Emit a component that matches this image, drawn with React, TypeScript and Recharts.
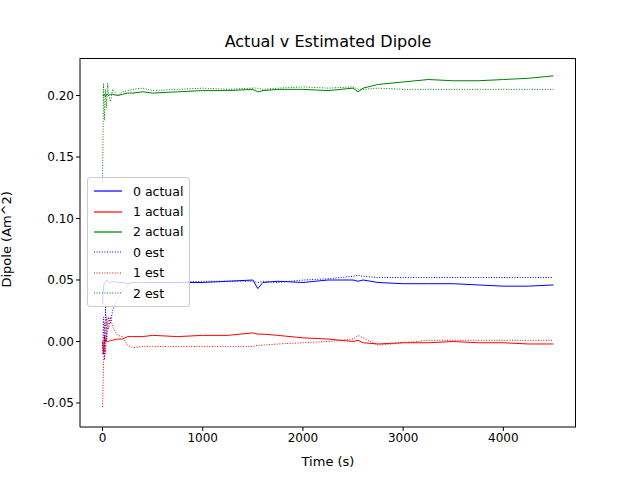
import { LineChart, Line, XAxis, YAxis } from "recharts"

const times = [0, 10, 20, 30, 40, 50, 60, 80, 100, 150, 200, 250, 300, 400, 500, 750, 1000, 1250, 1500, 1550, 1600, 1750, 2000, 2250, 2500, 2550, 2600, 2750, 3000, 3250, 3500, 3750, 4000, 4250, 4500]

const actual0 = [0.030, 0.045, 0.048, 0.049, 0.050, 0.049, 0.048, 0.048, 0.049, 0.048, 0.048, 0.047, 0.048, 0.048, 0.048, 0.048, 0.048, 0.049, 0.050, 0.043, 0.048, 0.049, 0.048, 0.050, 0.050, 0.049, 0.050, 0.048, 0.047, 0.047, 0.047, 0.046, 0.045, 0.045, 0.046]
const actual1 = [0.0, -0.01, 0.005, 0.0, 0.001, 0.0, 0.0, 0.001, 0.001, 0.002, 0.002, 0.004, 0.004, 0.004, 0.005, 0.004, 0.005, 0.005, 0.007, 0.006, 0.006, 0.005, 0.003, 0.002, 0.0, 0.001, -0.001, -0.002, -0.001, -0.001, 0.0, -0.001, -0.001, -0.002, -0.002]
const actual2 = [0.200, 0.200, 0.201, 0.199, 0.201, 0.201, 0.200, 0.201, 0.201, 0.200, 0.201, 0.202, 0.202, 0.203, 0.202, 0.203, 0.204, 0.204, 0.205, 0.203, 0.204, 0.205, 0.205, 0.204, 0.206, 0.203, 0.206, 0.209, 0.211, 0.213, 0.212, 0.212, 0.213, 0.214, 0.216]
const est0 = [-0.01, 0.02, -0.015, 0.03, 0.0, 0.01, 0.02, 0.015, 0.025, 0.035, 0.042, 0.045, 0.048, 0.048, 0.048, 0.048, 0.049, 0.049, 0.049, 0.048, 0.049, 0.048, 0.050, 0.051, 0.053, 0.054, 0.053, 0.052, 0.052, 0.052, 0.052, 0.052, 0.052, 0.052, 0.052]
const est1 = [-0.053, -0.02, 0.015, -0.01, 0.02, 0.015, 0.01, 0.02, 0.012, 0.005, 0.004, -0.003, -0.005, -0.004, -0.004, -0.004, -0.004, -0.004, -0.004, -0.003, -0.003, -0.002, -0.001, 0.0, 0.002, 0.005, 0.003, -0.003, -0.001, 0.001, 0.001, 0.001, 0.001, 0.001, 0.001]
const est2 = [0.13, 0.21, 0.18, 0.205, 0.19, 0.21, 0.20, 0.195, 0.205, 0.200, 0.203, 0.204, 0.205, 0.206, 0.204, 0.205, 0.206, 0.205, 0.206, 0.206, 0.205, 0.206, 0.207, 0.206, 0.207, 0.205, 0.205, 0.206, 0.205, 0.205, 0.205, 0.205, 0.205, 0.205, 0.205]

const xTicks = [0, 1000, 2000, 3000, 4000]
const yTicks = [-0.05, 0, 0.05, 0.1, 0.15, 0.2]

const data = times.map((t, i) => ({
  t,
  a0: actual0[i], a1: actual1[i], a2: actual2[i],
  e0: est0[i], e1: est1[i], e2: est2[i],
}))

const series = [
  { key: "a0", name: "0 actual", color: "#0000ff", dash: undefined },
  { key: "a1", name: "1 actual", color: "#ff0000", dash: undefined },
  { key: "a2", name: "2 actual", color: "#008000", dash: undefined },
  { key: "e0", name: "0 est", color: "#0000ff", dash: "1 1.6" },
  { key: "e1", name: "1 est", color: "#ff0000", dash: "1 1.6" },
  { key: "e2", name: "2 est", color: "#008000", dash: "1 1.6" },
]

const font = "DejaVu Sans"

export default function App() {
  return (
    <div style={{ position: "absolute", left: 0, top: 0, width: 640, height: 480, background: "#fff" }}>
      <div style={{ position: "absolute", top: 32, width: 496, left: 80, textAlign: "center", fontFamily: font, fontSize: 16 }}>
        Actual v Estimated Dipole
      </div>
      <LineChart width={640} height={480} data={data} margin={{ top: 58, right: 64, left: 0, bottom: 0 }}>
        <XAxis
          dataKey="t" type="number" domain={[-225, 4725]} ticks={xTicks} height={53}
          tick={{ fill: "#000", fontSize: 12, fontFamily: font }} stroke="#000"
          tickLine={{ stroke: "#000" }} tickSize={4}
          label={{ value: "Time (s)", position: "insideBottom", offset: 14, fill: "#000", fontSize: 13, fontFamily: font }}
        />
        <YAxis
          type="number" domain={[-0.0695, 0.2305]} ticks={yTicks} width={80}
          tickFormatter={(v: number) => v.toFixed(2)}
          tick={{ fill: "#000", fontSize: 12, fontFamily: font }} stroke="#000" tickSize={4}
          label={{ value: "Dipole (Am^2)", angle: -90, position: "insideLeft", offset: 6, dy: 45, fill: "#000", fontSize: 13, fontFamily: font }}
        />
        {series.map((s) => (
          <Line key={s.key} dataKey={s.key} name={s.name} stroke={s.color} strokeWidth={1} strokeDasharray={s.dash} dot={false} isAnimationActive={false} type="linear" />
        ))}
      </LineChart>
      {/* axes frame (top/right spines) */}
      <div style={{ position: "absolute", left: 80, top: 58, width: 495, height: 368, border: "1px solid #000", borderLeft: "none", borderBottom: "none", pointerEvents: "none" }} />
      <div style={{ position: "absolute", left: 87, top: 177, background: "rgba(255,255,255,0.8)", border: "1px solid #ccc", borderRadius: 3, padding: "3px 6px", fontFamily: font, fontSize: 12.5 }}>
        {series.map((s) => (
          <div key={s.key} style={{ display: "flex", alignItems: "center", height: 20.4 }}>
            <svg width={28} height={10} style={{ marginRight: 11 }}>
              <line x1={0} y1={5} x2={28} y2={5} stroke={s.color} strokeWidth={1.2} strokeDasharray={s.dash} />
            </svg>
            <span>{s.name}</span>
          </div>
        ))}
      </div>
    </div>
  )
}
